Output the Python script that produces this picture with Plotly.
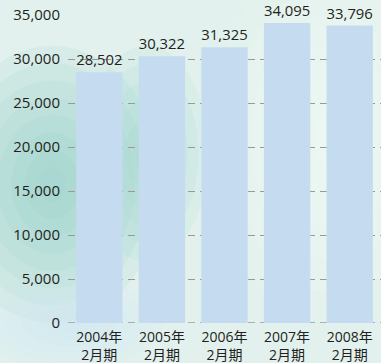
import plotly.graph_objects as go

categories = ["2004年<br>2月期", "2005年<br>2月期", "2006年<br>2月期", "2007年<br>2月期", "2008年<br>2月期"]
values = [28502, 30322, 31325, 34095, 33796]
tick_vals = [0, 5000, 10000, 15000, 20000, 25000, 30000, 35000]
tick_text = ["0", "5,000", "10,000", "15,000", "20,000", "25,000", "30,000", "35,000"]

FONT = "Open Sans, Noto Sans CJK JP, sans-serif"
TXT = "#231f20"

fig = go.Figure()
fig.add_trace(go.Bar(
    x=categories, y=values,
    marker=dict(color="#c5dcf0", line=dict(width=0)),
    text=[f"{v:,}" for v in values],
    textposition="outside",
    textfont=dict(family=FONT, size=15, color=TXT),
    cliponaxis=False,
))

# soft background wash (decoration): stacked concentric translucent ellipses
blobs = [
    # cx, cy, rx, ry, rgb, layers
    (-0.05, 0.45, 0.35, 0.45, "140,205,200", 8),
    (0.25, 0.55, 0.2, 0.35, "160,215,205", 6),
    (0.0, 0.0, 0.3, 0.15, "205,232,245", 6),
    (0.85, 0.6, 0.4, 0.6, "248,252,248", 6),
]
shapes = []
for cx, cy, rx, ry, rgb, n in blobs:
    for i in range(n):
        f = 1 - i / n
        shapes.append(dict(type="circle", xref="paper", yref="paper",
                           x0=cx - rx * f, x1=cx + rx * f, y0=cy - ry * f, y1=cy + ry * f,
                           fillcolor=f"rgba({rgb},0.12)", line=dict(width=0), layer="below"))
shapes.append(dict(type="line", xref="paper", yref="y", x0=0, x1=1, y0=0, y1=0,
                   line=dict(color="#999999", width=1.3, dash="7px,5px"), layer="below"))

fig.update_layout(
    width=381, height=363,
    margin=dict(l=68, r=0, t=15, b=40, autoexpand=False),
    paper_bgcolor="#e2f1ed",
    plot_bgcolor="rgba(0,0,0,0)",
    bargap=0.26,
    showlegend=False,
    shapes=shapes,
    font=dict(family=FONT, color=TXT),
    xaxis=dict(showgrid=False, showline=False, ticks="", ticklabelstandoff=4,
               automargin=False,
               tickfont=dict(family=FONT, size=14, color=TXT)),
    yaxis=dict(range=[0, 35000], tickvals=tick_vals, ticktext=tick_text,
               showgrid=True, gridcolor="#999999", griddash="7px,5px", gridwidth=1.3,
               zeroline=False, showline=False, ticks="", ticklabelstandoff=7,
               automargin=False,
               tickfont=dict(family=FONT, size=15, color=TXT)),
)
fig.write_html("out.html")
